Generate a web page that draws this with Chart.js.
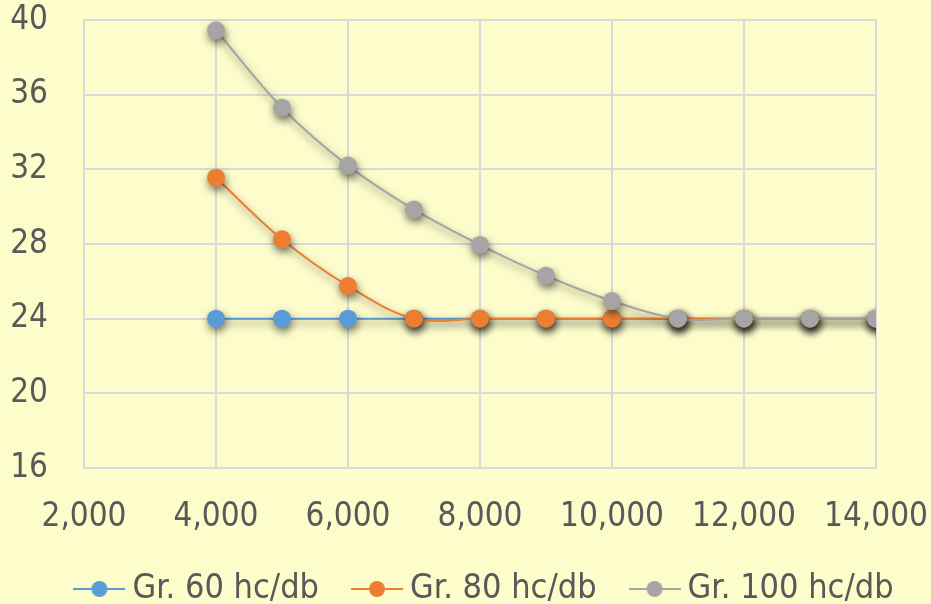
<!DOCTYPE html>
<html><head><meta charset="utf-8">
<script src="https://cdn.jsdelivr.net/npm/chart.js@4/dist/chart.umd.min.js"></script>
<style>
html,body{margin:0;padding:0;background:#FDFDCC;}
#wrap{width:931px;height:604px;position:relative;}
</style></head>
<body><div id="wrap"><canvas id="c" width="931" height="604"></canvas></div>
<script>
const xValues = [4000,5000,6000,7000,8000,9000,10000,11000,12000,13000,14000];
const gr60 = [24,24,24,24,24,24,24,24,24,24,24];
const gr80 = [31.55,28.25,25.75,24,24,24,24,24,24,24,24];
const gr100 = [39.45,35.3,32.2,29.85,27.95,26.3,24.95,24,24,24,24];
const seriesNames = ['Gr. 60 hc/db','Gr. 80 hc/db','Gr. 100 hc/db'];
const colors = ['#5B9BD5','#ED7D31','#A5A5A5'];
const fontFam = '"DejaVu Sans Condensed","DejaVu Sans",sans-serif';

function legendIcon(color){
  const cv=document.createElement('canvas'); cv.width=52; cv.height=20;
  const g=cv.getContext('2d');
  g.strokeStyle=color; g.lineWidth=2; g.beginPath(); g.moveTo(0,10); g.lineTo(52,10); g.stroke();
  g.fillStyle=color; g.beginPath(); g.arc(26,10,8,0,Math.PI*2); g.fill();
  return cv;
}
const pts = (arr)=>arr.map((v,i)=>({x:xValues[i],y:v}));
const datasets=[gr60,gr80,gr100].map((arr,i)=>({
  label:seriesNames[i], data:pts(arr), borderColor:colors[i], backgroundColor:colors[i],
  borderWidth:2, pointRadius:9, pointHoverRadius:9, pointBorderWidth:0,
  tension:0.35, pointStyle:'circle', order:2-i
}));
const shadowPlugin={id:'shadow',
  beforeDatasetDraw(chart){const c=chart.ctx;c.save();c.shadowColor='rgba(0,0,0,0.55)';c.shadowBlur=8;c.shadowOffsetX=1;c.shadowOffsetY=4;},
  afterDatasetDraw(chart){chart.ctx.restore();}
};
const layoutTweak={id:'layoutTweak',
  afterLayout(chart){
    if(chart.legend){chart.legend.left=37;chart.legend.right=940;}
    const xs=chart.scales.x; xs.bottom=xs.top+90;
  }
};
new Chart(document.getElementById('c'),{
  type:'line',
  data:{datasets},
  plugins:[shadowPlugin,layoutTweak],
  options:{
    responsive:false, animation:false, devicePixelRatio:1,
    layout:{autoPadding:false,padding:{top:20,left:0,right:0,bottom:-12}},
    scales:{
      x:{type:'linear',min:2000,max:14000,
         afterFit:s=>{s.height=62;s.paddingLeft=0;s.paddingRight=55;s.paddingTop=0;s.paddingBottom=0;},
         ticks:{stepSize:2000,color:'#595959',font:{family:fontFam,size:33},padding:30,
                callback:v=>v.toLocaleString('en-US'),maxRotation:0,autoSkip:false},
         grid:{color:'#D9D9D9',lineWidth:2,drawTicks:false},border:{color:'#D9D9D9',width:2}},
      y:{min:16,max:40,
         afterFit:s=>{s.width=84;s.paddingLeft=0;s.paddingRight=0;s.paddingTop=0;s.paddingBottom=0;},
         ticks:{stepSize:4,color:'#595959',font:{family:fontFam,size:33},padding:36},
         grid:{color:'#D9D9D9',lineWidth:2,drawTicks:false},border:{color:'#D9D9D9',width:2}}
    },
    plugins:{
      legend:{position:'bottom',
        labels:{usePointStyle:true,pointStyleWidth:32,color:'#595959',font:{family:fontFam,size:34},padding:42,
          generateLabels(chart){return chart.data.datasets.map((d,i)=>({text:d.label,fillStyle:d.borderColor,strokeStyle:d.borderColor,pointStyle:legendIcon(d.borderColor),datasetIndex:i,fontColor:'#595959',lineWidth:0}));}}},
      tooltip:{enabled:false}
    }
  }
});
</script></body></html>
